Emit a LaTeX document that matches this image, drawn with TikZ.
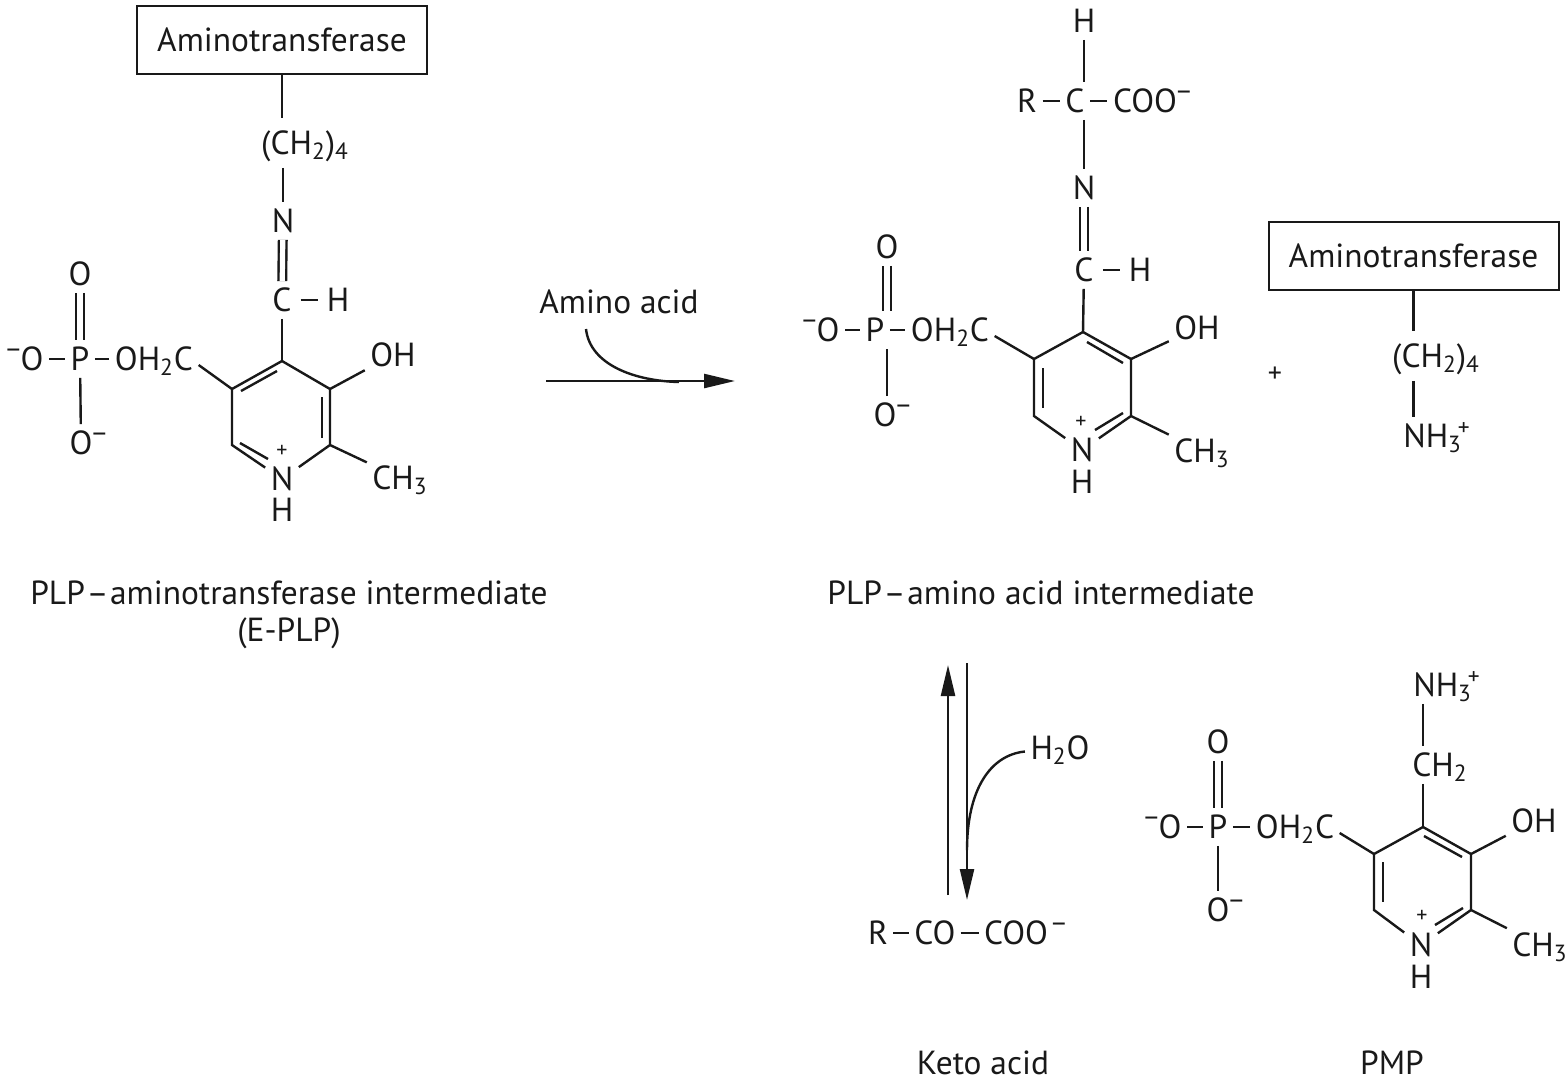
\documentclass[tikz,border=0pt]{standalone}
\usepackage{fontspec}
\setmainfont{PT Sans}
\usetikzlibrary{arrows.meta}
\newcommand{\chminus}{\raisebox{5.8pt}{\fontsize{14}{14}\selectfont −}}

\begin{document}
\begin{tikzpicture}[
    x=0.5pt, y=-0.5pt, line width=1.2pt, color=black!90,
    node distance=20pt,
    every node/.style={font=\fontsize{16.7}{20}\selectfont, inner sep=3pt},
    atom/.style = {text height=11.7pt, text depth=0pt, inner xsep=2.2pt},
    imine/.style = {atom, inner xsep=4pt},
    chain/.style = {atom, inner ysep=6pt},
    keto/.style = {atom, inner sep=2pt},
    caption/.style = {inner sep=1pt},
    small/.style = {font=\fontsize{11}{13}\selectfont, inner sep=0pt},
    enzymebox/.style = {rectangle, draw, line width=1pt, minimum width=145pt, minimum height=34pt},
    dbl/.style = {double, double distance=2.6pt},
    rxn/.style = {-{Triangle[length=15.5pt,width=7pt]}}
]

  \useasboundingbox (0,0) rectangle (1567,1083);

  % E-PLP
  \node (enzyme1) [enzymebox] at (282,39.5) {Aminotransferase};
  \node (chain1)  [chain] at (305,143) {(CH\textsubscript{2})\textsubscript{4}};
  \node (n1)      [atom] at (283,221) {N};
  \node (c1)      [imine, below of=n1, yshift=-19.5pt, xshift=-.5pt] {C};
  \node (h1)      [imine, right of=c1, xshift=8pt] {H};
  \node (p1)      [atom] at (80,359) {P};
  \node (om1)     [atom, left of=p1, xshift=-4pt] {\llap{\chminus}O};
  \node (oa1)     [atom, above of=p1, yshift=22.5pt] {O};
  \node (ob1)     [atom, below of=p1, yshift=-22pt, xshift=.5pt] {O\rlap{\chminus}};
  \node (ch2o1)   [atom, right of=p1, xshift=17pt] {OH\textsubscript{2}C};
  \coordinate (top1) at (282,361);
  \coordinate (ur1)  at (330,389);
  \coordinate (lr1)  at (330,445);
  \coordinate (ll1)  at (232,445);
  \coordinate (ul1)  at (232,389);
  \node (ringn1)  [atom] at (282,479) {N};
  \node (nh1)     [atom, below of=ringn1, yshift=4.5pt] {H};
  \node (plus1)   [small] at (282,451) {+};
  \node (oh1)     [atom] at (393,355) {OH};
  \node (me1)     [atom] at (400,478) {CH\textsubscript{3}};
  \coordinate (ia1) at (241,391);
  \coordinate (ib1) at (277,371);
  \coordinate (ic1) at (322,397);
  \coordinate (id1) at (322,438);
  \coordinate (ie1) at (240,443);
  \coordinate (if1) at (268,459);

  \draw     (enzyme1.south) -- (enzyme1.south |- chain1.north);
  \draw     (n1.north |- chain1.south) -- (n1.north);
  \draw[dbl]     (n1) -- (c1);
  \draw     (c1) -- (h1);
  \draw     (c1) -- (top1);
  \draw     (ringn1) -- (lr1) -- (ur1) -- (top1) -- (ul1) -- (ll1) -- (ringn1);
  \draw     (ia1) -- (ib1);
  \draw     (ic1) -- (id1);
  \draw     (ie1) -- (if1);
  \draw     (ur1) -- (oh1);
  \draw     (lr1) -- (me1);
  \draw     (ul1) -- ([yshift=-3pt]ch2o1.east);
  \draw     (om1) -- (p1);
  \draw     (p1) -- (ch2o1);
  \draw[dbl]     (oa1) -- (p1);
  \draw     (p1) -- (ob1);

  \node (caption1) [caption] at (289,593) {PLP\kern.8pt–\kern.8pt aminotransferase intermediate};
  \node (caption2) [caption] at (289,633) {(E-PLP)};

  % reaction arrow
  \node (amino) [caption] at (619,302) {Amino acid};
  \coordinate (rxa) at (546,381);
  \coordinate (rxb) at (735,381);
  \coordinate (bend1) at (586,329);
  \coordinate (bend2) at (679,382);
  \draw[rxn]     (rxa) -- (rxb);
  \draw     (bend1) .. controls (590,365) and (635,381) .. (bend2);

  % PLP-amino acid
  \node (h2)      [atom] at (1084,21) {H};
  \node (c2)      [atom] at (1075,101) {C};
  \node (r2)      [atom, left of=c2, xshift=-4pt] {R};
  \node (coo2)    [atom] at (1145,101) {COO\rlap{\chminus}};
  \node (n2)      [atom] at (1084,188) {N};
  \node (c3)      [imine, below of=n2, yshift=-21pt] {C};
  \node (h3)      [imine, right of=c3, xshift=8pt] {H};
  \node (p2)      [atom] at (875,330) {P};
  \node (om2)     [atom, left of=p2, xshift=-3.5pt] {\llap{\chminus}O};
  \node (oa2)     [atom] at (887,247) {O};
  \node (ob2)     [atom] at (885,415) {O\rlap{\chminus}};
  \node (ch2o2)   [atom, right of=p2, xshift=17.5pt] {OH\textsubscript{2}C};
  \coordinate (top2) at (1083,332);
  \coordinate (ur2)  at (1131,359);
  \coordinate (lr2)  at (1131,416);
  \coordinate (ll2)  at (1034,416);
  \coordinate (ul2)  at (1034,359);
  \node (ringn2)  [atom] at (1082,450) {N};
  \node (nh2)     [atom, below of=ringn2, yshift=4pt] {H};
  \node (plus2)   [small] at (1081,422) {+};
  \node (oh2)     [atom] at (1197,328) {OH};
  \node (me2)     [atom] at (1202,451) {CH\textsubscript{3}};
  \coordinate (ia2) at (1087,342);
  \coordinate (ib2) at (1123,363);
  \coordinate (ic2) at (1043,368);
  \coordinate (id2) at (1043,408);
  \coordinate (ie2) at (1123,413);
  \coordinate (if2) at (1095,430);

  \draw     (h2.south) -- (h2.south |- c2.north);
  \draw     (r2) -- (c2);
  \draw     (c2) -- (coo2);
  \draw     (n2.north |- c2.south) -- (n2.north);
  \draw[dbl]     (n2) -- (c3);
  \draw     (c3) -- (h3);
  \draw     (c3) -- (top2);
  \draw     (ringn2) -- (lr2) -- (ur2) -- (top2) -- (ul2) -- (ll2) -- (ringn2);
  \draw     (ia2) -- (ib2);
  \draw     (ic2) -- (id2);
  \draw     (ie2) -- (if2);
  \draw     (ur2) -- (oh2);
  \draw     (lr2) -- (me2);
  \draw     (ul2) -- ([yshift=-3pt]ch2o2.east);
  \draw     (om2) -- (p2);
  \draw     (p2) -- (ch2o2);
  \draw[dbl]     (oa2.south) -- (oa2.south |- p2.north);
  \draw     (ob2.north -| oa2) -- (oa2 |- p2.south);

  \node (caption3) [caption] at (1041,593) {PLP\kern.8pt–\kern.8pt amino acid intermediate};

  % free enzyme
  \node (plus3)   [small, font=\fontsize{14}{16}\selectfont] at (1275,375) {+};
  \node (enzyme2) [enzymebox] at (1413.5,255.5) {Aminotransferase};
  \node (chain2)  [chain] at (1436,356) {(CH\textsubscript{2})\textsubscript{4}};
  \node (nh3a)    [atom] at (1437,436) {NH\textsubscript{3}\kern-2pt\textsuperscript{+}};
  \draw     (enzyme2.south) -- (enzyme2.south |- chain2.north);
  \draw     (enzyme2.south |- chain2.south) -- (enzyme2.south |- nh3a.north);

  % equilibrium arrows
  \coordinate (eqa) at (948,895);
  \coordinate (eqb) at (948,665);
  \coordinate (eqc) at (967,663);
  \coordinate (eqd) at (967,900);
  \node (water) [atom] at (1060,748) {H\textsubscript{2}O};
  \coordinate (bend3) at (967,850);
  \draw[rxn]     (eqa) -- (eqb);
  \draw[rxn]     (eqc) -- (eqd);
  \draw     (water) .. controls (990,755) and (967,790) .. (bend3);

  \node (r4)      [keto] at (878,933) {R};
  \node (co4)     [keto] at (935,933) {CO};
  \node (coo4)    [keto] at (1016,933) {COO\rlap{\kern2pt\chminus}};
  \draw     (r4) -- (co4);
  \draw     (co4) -- (coo4);
  \node (caption4) [caption] at (983,1063) {Keto acid};

  % PMP
  \node (nh3b)    [atom] at (1447,685) {NH\textsubscript{3}\kern-2pt\textsuperscript{+}};
  \node (ch2b)    [atom] at (1440,765) {CH\textsubscript{2}};
  \node (p3)      [atom] at (1218,827) {P};
  \node (om3)     [atom, left of=p3, xshift=-4pt] {\llap{\chminus}O};
  \node (oa3)     [atom, above of=p3, yshift=22.5pt] {O};
  \node (ob3)     [atom, below of=p3, yshift=-21.5pt] {O\rlap{\chminus}};
  \node (ch2o3)   [atom, right of=p3, xshift=18.5pt] {OH\textsubscript{2}C};
  \coordinate (top3) at (1423,827);
  \coordinate (ur3)  at (1471,854);
  \coordinate (lr3)  at (1471,910);
  \coordinate (ll3)  at (1374,910);
  \coordinate (ul3)  at (1374,854);
  \node (ringn3)  [atom] at (1421,945) {N};
  \node (nh3)     [atom, below of=ringn3, yshift=4pt] {H};
  \node (plus4)   [small] at (1422,916) {+};
  \node (oh3)     [atom] at (1534,821) {OH};
  \node (me3)     [atom] at (1540,945) {CH\textsubscript{3}};
  \coordinate (ia3) at (1424,836);
  \coordinate (ib3) at (1462,857);
  \coordinate (ic3) at (1383,862);
  \coordinate (id3) at (1383,902);
  \coordinate (ie3) at (1463,908);
  \coordinate (if3) at (1435,925);

  \draw     (top3 |- nh3b.south) -- (top3 |- ch2b.north);
  \draw     (top3 |- ch2b.south) -- (top3);
  \draw     (ringn3) -- (lr3) -- (ur3) -- (top3) -- (ul3) -- (ll3) -- (ringn3);
  \draw     (ia3) -- (ib3);
  \draw     (ic3) -- (id3);
  \draw     (ie3) -- (if3);
  \draw     (ur3) -- (oh3);
  \draw     (lr3) -- (me3);
  \draw     (ul3) -- ([yshift=-3pt]ch2o3.east);
  \draw     (om3) -- (p3);
  \draw     (p3) -- (ch2o3);
  \draw[dbl]     (oa3) -- (p3);
  \draw     (p3) -- (ob3);

  \node (caption5) [caption] at (1392,1063) {PMP};

\end{tikzpicture}
\end{document}
